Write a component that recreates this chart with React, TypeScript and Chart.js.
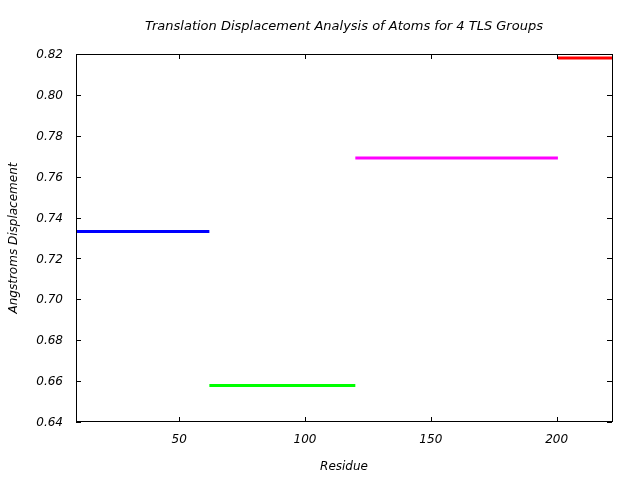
import React, { useEffect, useRef } from 'react';
import { Chart, registerables } from 'chart.js';

Chart.register(...registerables);

// ---- data ----
const groupNames = ['TLS Group 1', 'TLS Group 2', 'TLS Group 3', 'TLS Group 4'];
const residueStart = [9, 62, 120, 200.5];
const residueEnd = [62, 120, 200.5, 222];
const displacement = [0.7332, 0.6578, 0.7691, 0.8181];
const groupColors = ['#0000ff', '#00ff00', '#ff00ff', '#ff0000'];
const xTickValues = [50, 100, 150, 200];
const yTickValues = [0.64, 0.66, 0.68, 0.7, 0.72, 0.74, 0.76, 0.78, 0.8, 0.82];
const xRange = [9, 222];
const yRange = [0.64, 0.82];

const FONT = { family: '"DejaVu Sans", sans-serif', size: 12, style: 'italic' as const, weight: 'normal' as const };
const TITLE_FONT = { family: '"DejaVu Sans", sans-serif', size: 13, style: 'italic' as const, weight: 'normal' as const };

const framePlugin = {
  id: 'gnuFrame',
  afterDatasetsDraw(chart: any) {
    const { ctx, chartArea } = chart;
    const { left, right, top, bottom } = chartArea;
    const xs = chart.scales.x;
    const ys = chart.scales.y;
    const tl = 5;
    ctx.save();
    ctx.strokeStyle = '#000';
    ctx.lineWidth = 1;
    ctx.beginPath();
    xs.ticks.forEach((t: any) => {
      const px = Math.round(xs.getPixelForValue(t.value)) + 0.5;
      ctx.moveTo(px, bottom);
      ctx.lineTo(px, bottom - tl);
      ctx.moveTo(px, top);
      ctx.lineTo(px, top + tl);
    });
    ys.ticks.forEach((t: any) => {
      const py = Math.round(ys.getPixelForValue(t.value)) + 0.5;
      ctx.moveTo(left, py);
      ctx.lineTo(left + tl, py);
      ctx.moveTo(right, py);
      ctx.lineTo(right - tl, py);
    });
    ctx.stroke();
    ctx.strokeRect(left + 0.5, top + 0.5, right - left, bottom - top - 1);
    ctx.restore();
  },
};

export default function App() {
  const ref = useRef<HTMLCanvasElement | null>(null);

  useEffect(() => {
    if (!ref.current) return;
    const datasets = groupNames.map((name, i) => ({
      label: name,
      data: [
        { x: residueStart[i], y: displacement[i] },
        { x: residueEnd[i], y: displacement[i] },
      ],
      borderColor: groupColors[i],
      backgroundColor: groupColors[i],
      borderWidth: 3,
      pointRadius: 0,
      fill: false,
      tension: 0,
    }));

    const chart = new Chart(ref.current, {
      type: 'line',
      data: { datasets },
      plugins: [framePlugin],
      options: {
        animation: false,
        responsive: false,
        layout: { padding: { left: 0, right: 28, top: 0, bottom: 0 } },
        plugins: {
          legend: { display: false },
          tooltip: { enabled: false },
          title: {
            display: true,
            text: 'Translation Displacement Analysis of Atoms for 4 TLS Groups',
            color: '#000',
            font: TITLE_FONT,
            fullSize: false,
            padding: { top: 19.2, bottom: 19.2 },
          },
        },
        scales: {
          x: {
            type: 'linear',
            min: xRange[0],
            max: xRange[1],
            afterBuildTicks: (scale: any) => {
              scale.ticks = xTickValues.map((v) => ({ value: v }));
            },
            afterFit: (scale: any) => {
              scale.height = 58;
            },
            grid: { display: false, drawTicks: false },
            border: { display: false },
            ticks: {
              color: '#000',
              font: FONT,
              padding: 11,
              maxRotation: 0,
              callback: (v: any) => String(v),
            },
            title: {
              display: true,
              text: 'Residue',
              color: '#000',
              font: FONT,
              padding: { top: 0, bottom: 5.8 },
            },
          },
          y: {
            type: 'linear',
            min: yRange[0],
            max: yRange[1],
            afterBuildTicks: (scale: any) => {
              scale.ticks = yTickValues.map((v) => ({ value: v }));
            },
            afterFit: (scale: any) => {
              scale.width = 76;
            },
            grid: { display: false, drawTicks: false },
            border: { display: false },
            ticks: {
              color: '#000',
              font: FONT,
              padding: 13,
              labelOffset: 1,
              callback: (v: any) => Number(v).toFixed(2),
            },
            title: {
              display: true,
              text: 'Angstroms Displacement',
              color: '#000',
              font: FONT,
              padding: { top: 6.5, bottom: 0 },
            },
          },
        },
      },
    });
    return () => chart.destroy();
  }, []);

  return (
    <div style={{ position: 'fixed', left: 0, top: 0, width: 640, height: 480, background: '#fff' }}>
      <canvas ref={ref} width={640} height={480} style={{ display: 'block' }} />
    </div>
  );
}
